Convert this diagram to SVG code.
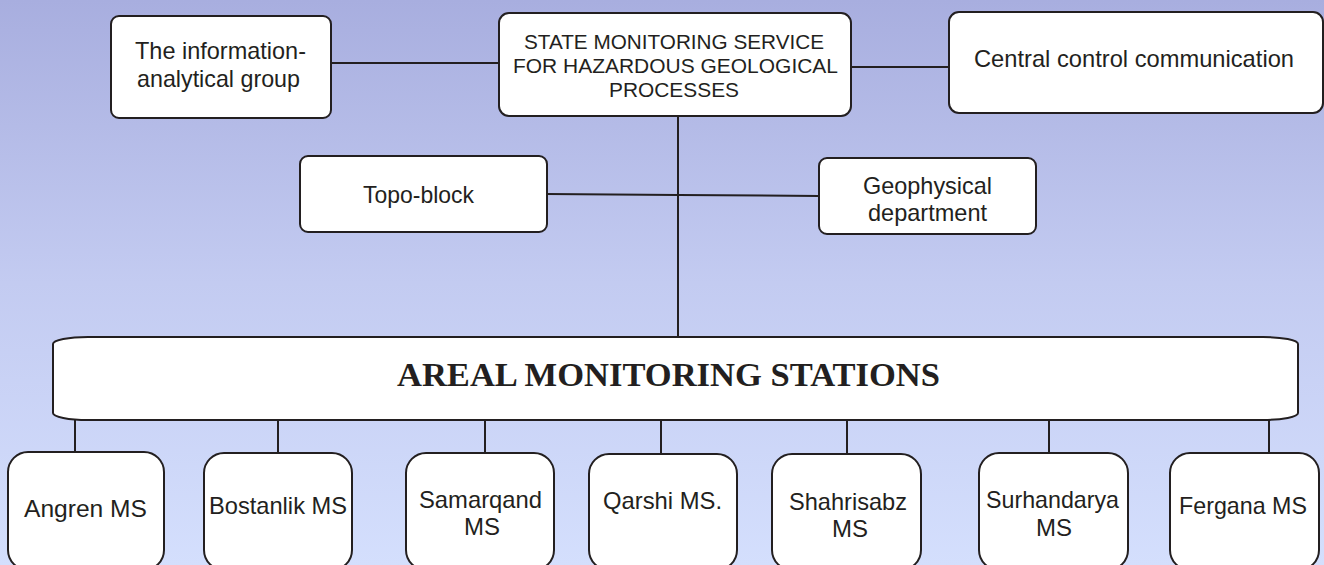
<svg xmlns="http://www.w3.org/2000/svg" width="1324" height="565" viewBox="0 0 1324 565">
<defs>
<linearGradient id="bg" x1="0" y1="0" x2="0" y2="1">
<stop offset="0" stop-color="#A8AEDF"/>
<stop offset="0.5" stop-color="#C3CBF1"/>
<stop offset="1" stop-color="#D4DFFD"/>
</linearGradient>
<style>
.box{fill:#FFFFFF;stroke:#231F20;stroke-width:2}
.ln{fill:none;stroke:#231F20;stroke-width:2}
.t{font-family:"Liberation Sans",Arial,sans-serif;fill:#231F20;font-size:24px}
.s{font-family:"Liberation Sans",Arial,sans-serif;fill:#231F20;font-size:21px}
.big{font-family:"Liberation Serif","Times New Roman",serif;font-weight:bold;fill:#231F20;font-size:34px}
</style>
</defs>
<rect x="0" y="0" width="1324" height="565" fill="url(#bg)"/>
<g id="connectors">
<path class="ln" d="M331 63 H499"/>
<path class="ln" d="M851 67 H949"/>
<path class="ln" d="M678 116 V337"/>
<path class="ln" d="M547 194 L678 195 L819 196"/>
<path class="ln" d="M75 420 V453 M278 420 V453 M485 420 V453 M661 420 V453 M847 420 V453 M1049 420 V453 M1269 420 V453"/>
</g>
<g id="info-group">
<rect class="box" x="111" y="16" width="220" height="102" rx="8"/>
<text class="t" x="135" y="59" textLength="171" lengthAdjust="spacingAndGlyphs">The information-</text>
<text class="t" x="137" y="87" textLength="163" lengthAdjust="spacingAndGlyphs">analytical group</text>
</g>
<g id="state-service">
<rect class="box" x="499" y="13" width="352" height="103" rx="10"/>
<text class="s" x="524" y="49" textLength="300" lengthAdjust="spacingAndGlyphs">STATE MONITORING SERVICE</text>
<text class="s" x="513" y="73" textLength="325" lengthAdjust="spacingAndGlyphs">FOR HAZARDOUS GEOLOGICAL</text>
<text class="s" x="609" y="97" textLength="130" lengthAdjust="spacingAndGlyphs">PROCESSES</text>
</g>
<g id="central-control">
<rect class="box" x="949" y="12" width="374" height="101" rx="10"/>
<text class="t" x="974" y="67" textLength="320" lengthAdjust="spacingAndGlyphs">Central control communication</text>
</g>
<g id="topo-block">
<rect class="box" x="300" y="156" width="247" height="76" rx="8"/>
<text class="t" x="363" y="203" textLength="111" lengthAdjust="spacingAndGlyphs">Topo-block</text>
</g>
<g id="geophysical">
<rect class="box" x="819" y="158" width="217" height="76" rx="8"/>
<text class="t" x="863" y="194" textLength="129" lengthAdjust="spacingAndGlyphs">Geophysical</text>
<text class="t" x="868" y="221" textLength="119" lengthAdjust="spacingAndGlyphs">department</text>
</g>
<g id="areal-stations">
<rect class="box" x="53" y="337" width="1245" height="83" rx="35" ry="7"/>
<text class="big" x="397" y="386" textLength="543" lengthAdjust="spacingAndGlyphs">AREAL MONITORING STATIONS</text>
</g>
<g id="angren">
<rect class="box" x="8" y="452" width="156" height="118" rx="20"/>
<text class="t" x="24" y="517" textLength="123" lengthAdjust="spacingAndGlyphs">Angren MS</text>
</g>
<g id="bostanlik">
<rect class="box" x="204" y="453" width="148" height="117" rx="20"/>
<text class="t" x="209" y="514" textLength="138" lengthAdjust="spacingAndGlyphs">Bostanlik MS</text>
</g>
<g id="samarqand">
<rect class="box" x="406" y="453" width="148" height="117" rx="20"/>
<text class="t" x="419" y="508" textLength="123" lengthAdjust="spacingAndGlyphs">Samarqand</text>
<text class="t" x="482" y="535" text-anchor="middle">MS</text>
</g>
<g id="qarshi">
<rect class="box" x="589" y="454" width="148" height="116" rx="20"/>
<text class="t" x="603" y="509" textLength="119" lengthAdjust="spacingAndGlyphs">Qarshi MS.</text>
</g>
<g id="shahrisabz">
<rect class="box" x="772" y="454" width="149" height="116" rx="20"/>
<text class="t" x="789" y="510" textLength="118" lengthAdjust="spacingAndGlyphs">Shahrisabz</text>
<text class="t" x="850" y="537" text-anchor="middle">MS</text>
</g>
<g id="surhandarya">
<rect class="box" x="979" y="453" width="149" height="117" rx="20"/>
<text class="t" x="986" y="508" textLength="133" lengthAdjust="spacingAndGlyphs">Surhandarya</text>
<text class="t" x="1054" y="536" text-anchor="middle">MS</text>
</g>
<g id="fergana">
<rect class="box" x="1170" y="453" width="149" height="117" rx="20"/>
<text class="t" x="1179" y="514" textLength="128" lengthAdjust="spacingAndGlyphs">Fergana MS</text>
</g>
</svg>
